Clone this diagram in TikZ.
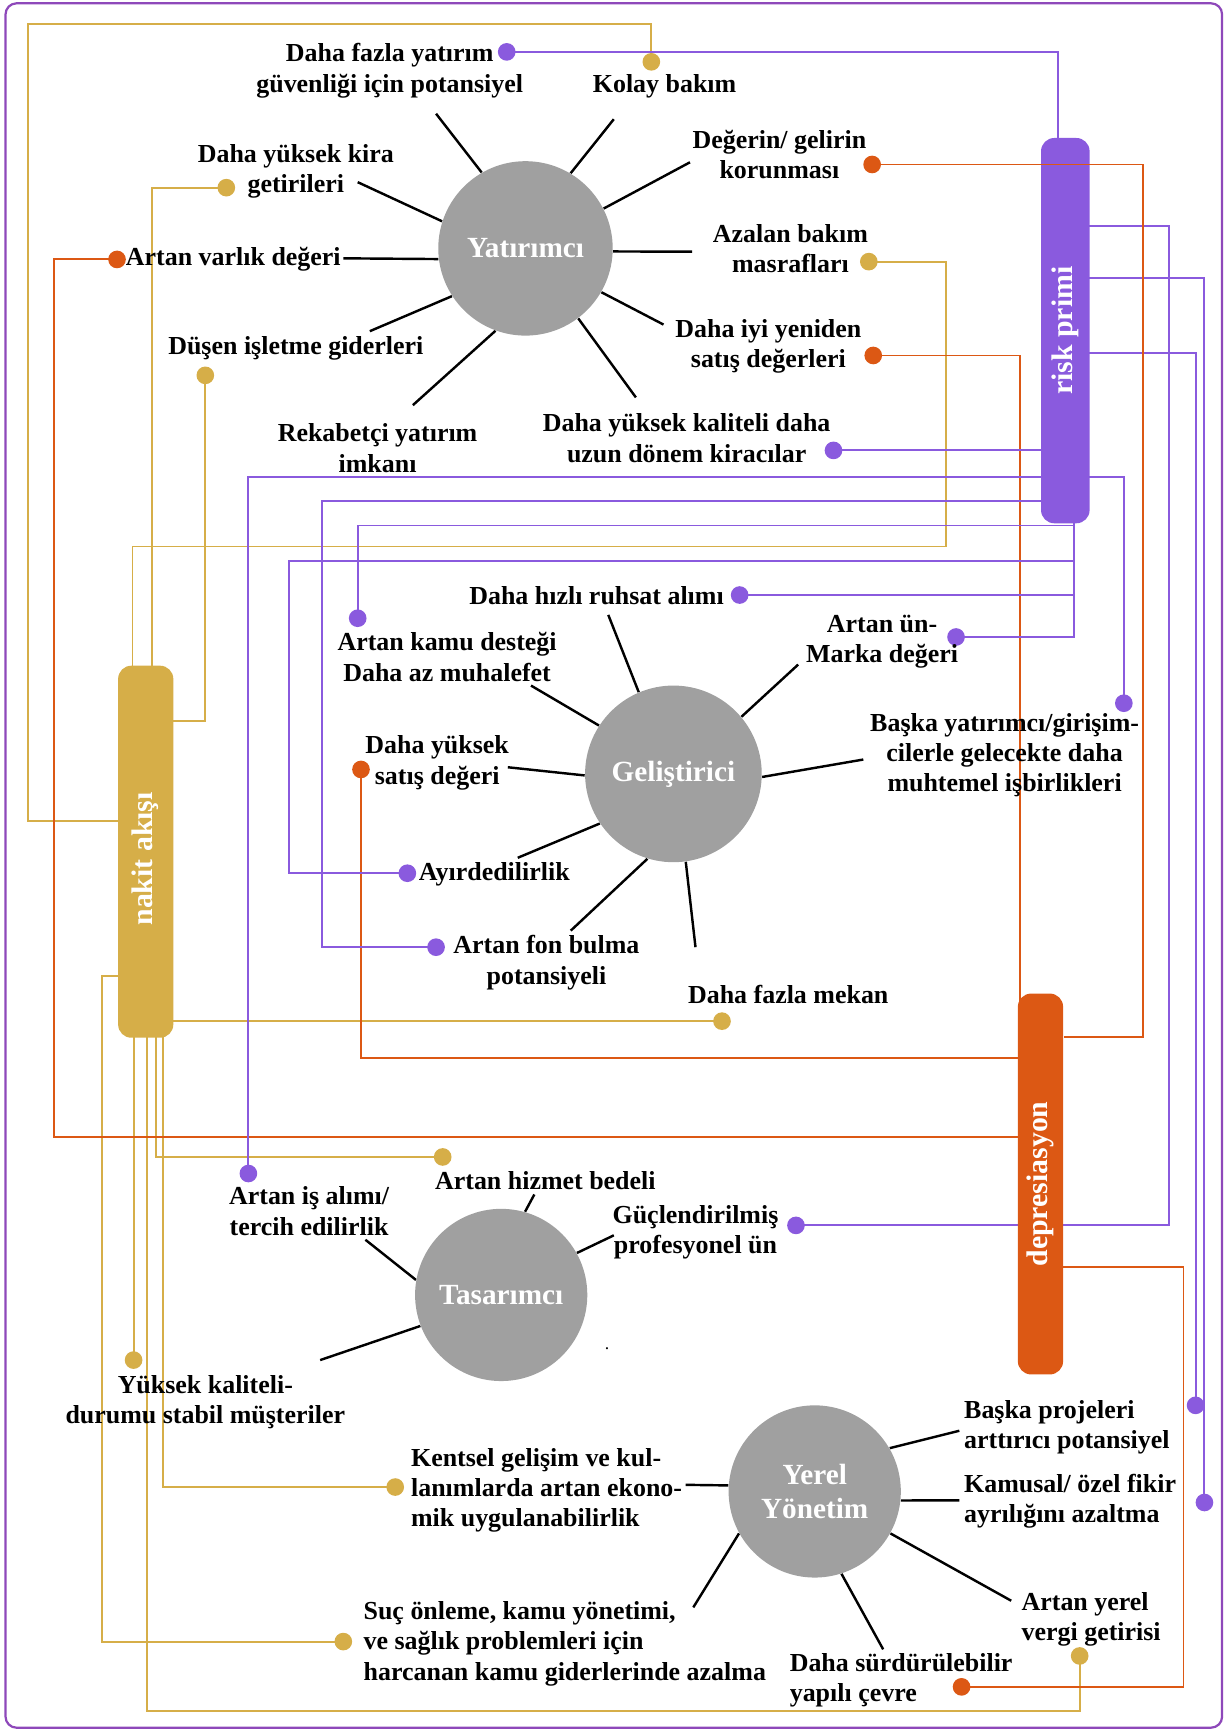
\documentclass[tikz,border=0pt]{standalone}
\usepackage{fontspec}
\setmainfont{Liberation Serif}
\pgfdeclarelayer{bg}
\pgfsetlayers{bg,main}
\definecolor{pur}{RGB}{138,90,222}
\definecolor{gld}{RGB}{214,174,72}
\definecolor{org}{RGB}{220,88,20}
\definecolor{gry}{RGB}{160,160,160}
\definecolor{brd}{RGB}{142,72,186}
\tikzset{
 lbl/.style={font=\bfseries\fontsize{11.75pt}{13.75pt}\selectfont, align=center, inner sep=0pt, text=black},
 lbll/.style={lbl, align=left},
 hub/.style={circle, fill=gry, text=white, inner sep=0pt, align=center, font=\bfseries\fontsize{13.25pt}{15pt}\selectfont},
 barbox/.style={rectangle, rounded corners=6pt, inner sep=0pt},
 bartxt/.style={text=white, inner sep=0pt, rotate=90, font=\bfseries\fontsize{13.5pt}{16pt}\selectfont},
 pdot/.style={circle, fill=pur, inner sep=0pt, minimum size=8pt},
 gdot/.style={circle, fill=gld, inner sep=0pt, minimum size=8pt},
 odot/.style={circle, fill=org, inner sep=0pt, minimum size=8pt},
 plin/.style={draw=pur, line width=0.85pt},
 glin/.style={draw=gld, line width=0.85pt},
 olin/.style={draw=org, line width=0.85pt},
 spoke/.style={draw=black, line width=1.1pt},
}
\begin{document}
\begin{tikzpicture}[x=0.5pt,y=-0.5pt]
\useasboundingbox (0,0) rectangle (1111,1568);
\draw[brd, line width=1pt, rounded corners=5pt] (5,3) rectangle (1107,1565);

% hubs
\node[hub, minimum size=79pt] (yat) at (476,225) {Yatırımcı};
\node[hub, minimum size=80pt] (gel) at (610,701) {Geliştirici};
\node[hub, minimum size=78pt] (tas) at (454,1173) {Tasarımcı};
\node[hub, minimum size=78pt] (yer) at (738,1351) {Yerel\\Yönetim};

% bars
\node[barbox, fill=pur, minimum width=22pt, minimum height=174.5pt] (risk) at (965,299.5) {};
\node[bartxt] (risktxt) at (risk.center) {risk primi};
\node[barbox, fill=gld, minimum width=25pt, minimum height=168.5pt] (nakit) at (132,771.5) {};
\node[bartxt] (nakittxt) at (132,778) {nakit akışı};
\node[barbox, fill=org, minimum width=20.5pt, minimum height=172.5pt] (dep) at (942.5,1072.5) {};
\node[bartxt] (deptxt) at (dep.center) {depresiasyon};

% dots purple
\node[pdot] (dp1) at (459,47) {};
\node[pdot] (dp2) at (755,408) {};
\node[pdot] (dp3) at (225,1063) {};
\node[pdot] (dp4) at (395,858) {};
\node[pdot] (dp5) at (324,560) {};
\node[pdot] (dp6) at (369,791) {};
\node[pdot] (dp7) at (670,539) {};
\node[pdot] (dp8) at (866,577) {};
\node[pdot] (dp9) at (1018,637) {};
\node[pdot] (dp10) at (721,1110) {};
\node[pdot] (dp11) at (1091,1361) {};
\node[pdot] (dp12) at (1083,1273) {};
% dots gold
\node[gdot] (dg1) at (590,56) {};
\node[gdot] (dg2) at (205,170) {};
\node[gdot] (dg3) at (186,340) {};
\node[gdot] (dg4) at (787,237) {};
\node[gdot] (dg5) at (311,1487) {};
\node[gdot] (dg6) at (654,925) {};
\node[gdot] (dg7) at (121,1232) {};
\node[gdot] (dg8) at (978,1500) {};
\node[gdot] (dg9) at (401,1048) {};
\node[gdot] (dg10) at (358,1347) {};
% dots orange
\node[odot] (do1) at (106,235) {};
\node[odot] (do2) at (790,149) {};
\node[odot] (do3) at (791,322) {};
\node[odot] (do4) at (327,697) {};
\node[odot] (do5) at (871,1528) {};

% labels
\node[lbl] (t-dfy) at (353,64) {Daha fazla yatırım\\güvenliği için potansiyel};
\node[lbl] (t-kol) at (602,78) {Kolay bakım};
\node[lbl] (t-kir) at (268,155) {Daha yüksek kira\\getirileri};
\node[lbl, anchor=east] (t-var) at (309,235) {Artan varlık değeri};
\node[lbl] (t-dus) at (268,316) {Düşen işletme giderleri};
\node[lbl] (t-rek) at (342,406) {Rekabetçi yatırım\\imkanı};
\node[lbl] (t-kal) at (622,397) {Daha yüksek kaliteli daha\\uzun dönem kiracılar};
\node[lbl] (t-deg) at (706,140) {Değerin/ gelirin\\korunması};
\node[lbl] (t-aza) at (716,225) {Azalan bakım\\masrafları};
\node[lbl] (t-iyi) at (696,314) {Daha iyi yeniden\\satış değerleri};
\node[lbl, anchor=east] (t-ruh) at (656,540) {Daha hızlı ruhsat alımı};
\node[lbl] (t-un) at (799,581) {Artan ün-\\Marka değeri};
\node[lbl] (t-bya) at (910,684) {Başka yatırımcı/girişim-\\cilerle gelecekte daha\\muhtemel işbirlikleri};
\node[lbl] (t-kam) at (405,595) {Artan kamu desteği\\Daha az muhalefet};
\node[lbl] (t-sat) at (396,691) {Daha yüksek\\satış değeri};
\node[lbl, anchor=west] (t-ayi) at (379,792) {Ayırdedilirlik};
\node[lbl] (t-fon) at (495,872) {Artan fon bulma\\potansiyeli};
\node[lbl] (t-mek) at (714,901) {Daha fazla mekan};
\node[lbl] (t-hiz) at (494,1069) {Artan hizmet bedeli};
\node[lbl] (t-isa) at (280,1097) {Artan iş alımı/\\tercih edilirlik};
\node[lbl] (t-guc) at (630,1116) {Güçlendirilmiş\\profesyonel ün};
\node[lbl] (t-yks) at (186,1270) {Yüksek kaliteli-\\durumu stabil müşteriler};
\node[lbll, anchor=west] (t-ken) at (372,1350) {Kentsel gelişim ve kul-\\lanımlarda artan ekono-\\mik uygulanabilirlik};
\node[lbll, anchor=west] (t-suc) at (329,1489) {Suç önleme, kamu yönetimi,\\ve sağlık problemleri için\\harcanan kamu giderlerinde azalma};
\node[lbll, anchor=west] (t-sur) at (715,1522) {Daha sürdürülebilir\\yapılı çevre};
\node[lbll, anchor=west] (t-vrg) at (925,1467) {Artan yerel\\vergi getirisi};
\node[lbll, anchor=west] (t-bpr) at (873,1293) {Başka projeleri\\arttırıcı potansiyel};
\node[lbll, anchor=west] (t-kms) at (873,1360) {Kamusal/ özel fikir\\ayrılığını azaltma};
\node[inner sep=0pt, font=\fontsize{8}{8}\selectfont] (t-pt) at (550,1222) {.};

\begin{pgfonlayer}{bg}
% gold connectors
\draw[glin] (dg1.center) |- (25,22) |- (nakit.west |- 0,744);
\draw[glin] (dg2.center) -| (nakit.center -| 138,0);
\draw[glin] (dg3.center) |- (nakit.center |- 0,653);
\draw[glin] (dg4.center) -| (857,495) -| (nakit.center -| 120,0);
\draw[glin] (nakit.center |- 0,884) -| (dg5.center -| 92,0) -- (dg5.center);
\draw[glin] (nakit.center |- dg6.center) -- (dg6.center);
\draw[glin] (dg7.center |- nakit.center) -- (dg7.center);
\draw[glin] (nakit.center -| 133,0) -- (133,1550) -| (dg8.center);
\draw[glin] (nakit.center -| 141,0) |- (dg9.center);
\draw[glin] (nakit.center -| 148,0) |- (dg10.center);
% orange connectors
\draw[olin] (do1.center) -| (49,1030) -- (dep.center |- 0,1030);
\draw[olin] (do3.center) -| (dep.center -| 924,0);
\draw[olin] (do4.center) |- (dep.center |- 0,958);
\draw[olin] (dep.center |- 0,1148) -| (1072,1528) -- (do5.center);
% purple connectors
\draw[plin] (dp1.center) -| (risk.center -| 958,0);
\draw[plin] (dp2.center) -- (risk.center |- dp2.center);
\draw[plin] (dp3.center) |- (dp9.center |- 0,432) -- (dp9.center);
\draw[plin] (dp4.center) -| (292,454) -- (risk.center |- 0,454);
\draw[plin] (dp5.center) |- (973,476);
\draw[plin] (dp6.center) -| (262,508) -- (973,508);
\draw[plin] (dp7.center) -- (973,539);
\draw[plin] (dp8.center) -| (risk.center -| 973,0);
\draw[plin] (risk.center |- 0,205) -| (1059,1110) -- (dp10.center);
\draw[plin] (risk.center |- 0,252) -| (dp11.center);
\draw[plin] (risk.center |- 0,320) -| (dp12.center);
% spokes
\draw[spoke] (yat.120) -- (395,103);
\draw[spoke] (yat.59) -- (556,108);
\draw[spoke] (yat.27) -- (625,147);
\draw[spoke] (yat.-2) -- (627,228);
\draw[spoke] (yat.-30) -- (601,294);
\draw[spoke] (yat.-53) -- (576,360);
\draw[spoke] (yat.250) -- (374,367);
\draw[spoke] (yat.213) -- (335,300);
\draw[spoke] (yat.187) -- (311,234);
\draw[spoke] (yat.162) -- (324,165);
\draw[spoke] (gel.113) -- (551,557);
\draw[spoke] (gel.40) -- (723,602);
\draw[spoke] (gel.-2) -- (782,688);
\draw[spoke] (gel.147) -- (481,621);
\draw[spoke] (gel.181) -- (460,695);
\draw[spoke] (gel.214) -- (469,777);
\draw[spoke] (gel.253) -- (517,843);
\draw[spoke] (gel.-82) -- (630,858);
\draw[spoke] (tas.74) -- (484,1082);
\draw[spoke] (tas.170) -- (331,1123);
\draw[spoke] (tas.29) -- (556,1119);
\draw[spoke] (tas.201) -- (290,1232);
\draw[spoke] (yer.30) -- (869,1296);
\draw[spoke] (yer.-6) -- (869,1359);
\draw[spoke] (yer.-29) -- (916,1450);
\draw[spoke] (yer.-72) -- (800,1494);
\draw[spoke] (yer.209) -- (628,1456);
\draw[spoke] (yer.176) -- (621,1345);
\end{pgfonlayer}
% orange line drawn across the risk bar
\draw[olin] (do2.east) -| (1035,939) -- (dep.east |- 0,939);
\end{tikzpicture}
\end{document}
